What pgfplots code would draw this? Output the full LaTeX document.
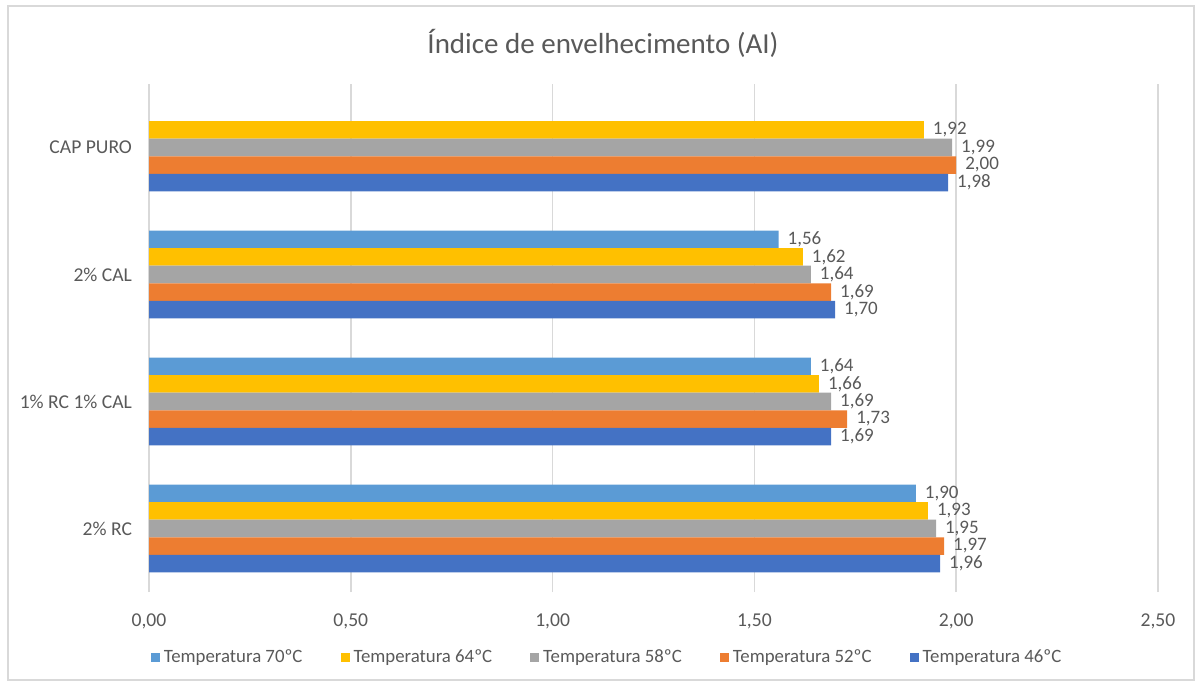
\documentclass[border=0pt]{standalone}
\usepackage{pgfplots}
\pgfplotsset{compat=1.18}
\usepackage{fontspec}
\setmainfont{Carlito}

\definecolor{c70}{HTML}{5B9BD5}
\definecolor{c64}{HTML}{FFC000}
\definecolor{c58}{HTML}{A5A5A5}
\definecolor{c52}{HTML}{ED7D31}
\definecolor{c46}{HTML}{4472C4}
\definecolor{txt}{HTML}{595959}
\definecolor{gridc}{HTML}{D9D9D9}

\begin{document}
\begin{tikzpicture}
\path[use as bounding box] (0,0) rectangle (599.5pt,343pt);
\draw[gridc, line width=0.7pt] (4pt,3pt) rectangle (597pt,340pt);
\node[text=txt, font=\fontsize{14.5}{17}\selectfont] at (301.5pt,321.5pt) {Índice de envelhecimento (AI)};

\begin{axis}[
    at={(74.5pt,47pt)}, anchor=south west,
    scale only axis, width=504.5pt, height=254pt,
    xbar, bar width=0.138,
    xmin=0, xmax=2.5, ymin=-0.5, ymax=3.5,
    xtick={0,0.5,1,1.5,2,2.5},
    ytick={0,1,2,3},
    yticklabels={2\% RC, 1\% RC 1\% CAL, 2\% CAL, CAP PURO},
    xmajorgrids, ymajorgrids=false,
    grid style={draw=gridc, line width=0.8pt},
    axis line style={draw=none},
    major tick length=0pt,
    /pgf/number format/.cd, use comma, fixed, fixed zerofill, precision=2, assume math mode=true,
    /pgfplots/.cd,
    tick label style={text=txt, font=\fontsize{9.8}{12}\selectfont},
    xticklabel style={yshift=-7.5pt},
    yticklabel style={xshift=-5pt},
    nodes near coords,
    every node near coord/.append style={text=txt, font=\fontsize{9.5}{11}\selectfont, xshift=1pt},
    legend columns=5,
    legend style={at={(0.455,-0.13)}, anchor=center, draw=none, fill=none,
        font=\fontsize{9.4}{11}\selectfont, text=txt,
        /tikz/every even column/.append style={column sep=17pt}},
    legend cell align=left,
    legend image code/.code={\fill[#1] (0pt,-2.2pt) rectangle (4.5pt,2.3pt);},
]
\addplot[fill=c70, draw=none, bar shift=0.276] coordinates {(1.90,0) (1.64,1) (1.56,2)};
\addplot[fill=c64, draw=none, bar shift=0.138] coordinates {(1.93,0) (1.66,1) (1.62,2) (1.92,3)};
\addplot[fill=c58, draw=none, bar shift=0] coordinates {(1.95,0) (1.69,1) (1.64,2) (1.99,3)};
\addplot[fill=c52, draw=none, bar shift=-0.138] coordinates {(1.97,0) (1.73,1) (1.69,2) (2.00,3)};
\addplot[fill=c46, draw=none, bar shift=-0.276] coordinates {(1.96,0) (1.69,1) (1.70,2) (1.98,3)};
\legend{Temperatura 70ºC, Temperatura 64ºC, Temperatura 58ºC, Temperatura 52ºC, Temperatura 46ºC}
\end{axis}
\end{tikzpicture}
\end{document}
